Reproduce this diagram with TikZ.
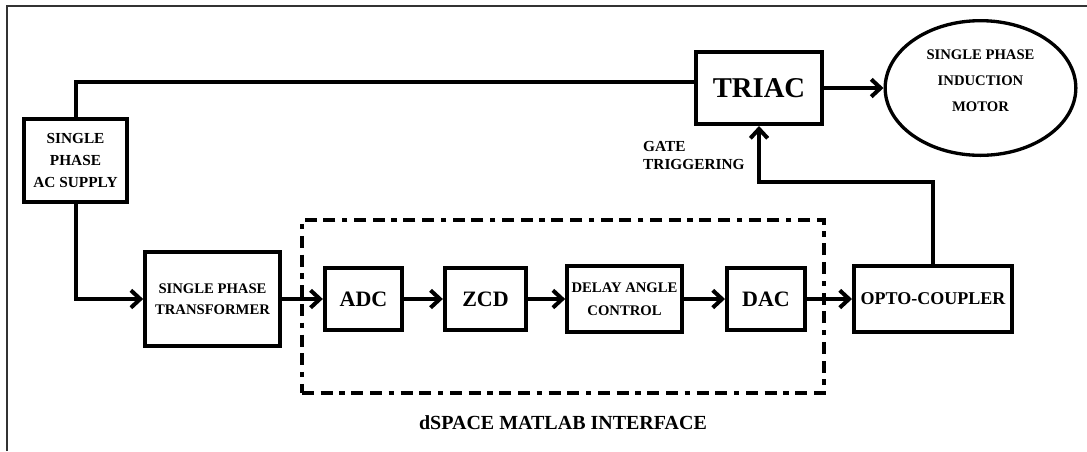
\documentclass[tikz,border=0pt]{standalone}
\usepackage{fontspec}
\setmainfont{Liberation Serif}
\usepackage{tikz}
\usetikzlibrary{positioning, shapes.geometric, arrows.meta}

\begin{document}
\begin{tikzpicture}[x=0.75pt, y=-0.75pt]

\tikzset{
  block/.style={
    draw=black,
    line width=3pt,
    rectangle,
    align=center,
    inner sep=0pt
  },
  dashbox/.style={
    draw=black,
    line width=3pt,
    dash pattern=on 9pt off 5pt on 9pt off 5pt on 4pt off 5pt,
    inner sep=0pt
  },
  wire/.style={line width=3pt},
  flow/.style={
    line width=3pt,
    -{Straight Barb[length=7pt, width=13pt]}
  }
}

\useasboundingbox (0,0) rectangle (1087,451);
\draw[line width=0.9pt, black!80] (7,451) -- (7,6) -- (1087,6);

\node[block, minimum width=77pt, minimum height=62pt,
  font=\bfseries\fontsize{11.5}{16.5}\selectfont]
  (supply) at (75.5,160.5) {SINGLE\\PHASE\\AC SUPPLY};

\node[block, minimum width=101pt, minimum height=71pt,
  font=\bfseries\fontsize{11}{15.75}\selectfont]
  (trans) at (212.5,299) {SINGLE PHASE\\TRANSFORMER};

\node[dashbox, minimum width=391.5pt, minimum height=130pt] (dspace) at (563,306.5) {};

\node[block, minimum width=58pt, minimum height=47pt,
  font=\bfseries\fontsize{16.5}{18}\selectfont]
  (adc) at (363.5,299) {ADC};
\node[block, minimum width=61pt, minimum height=47pt,
  font=\bfseries\fontsize{16.5}{18}\selectfont]
  (zcd) at (485.5,299) {ZCD};
\node[block, minimum width=86pt, minimum height=49.5pt,
  font=\bfseries\fontsize{11}{17}\selectfont]
  (delay) at (624.5,299) {DELAY ANGLE\\CONTROL};
\node[block, minimum width=58.5pt, minimum height=47pt,
  font=\bfseries\fontsize{16.5}{18}\selectfont]
  (dac) at (766,299) {DAC};
\node[block, minimum width=118.5pt, minimum height=49.5pt,
  font=\bfseries\fontsize{13.5}{16}\selectfont]
  (opto) at (933,299) {OPTO-COUPLER};

\node[block, minimum width=94.5pt, minimum height=54pt,
  font=\bfseries\fontsize{21.5}{24}\selectfont]
  (triac) at (759,88) {TRIAC};
\node[ellipse, draw=black, line width=2.5pt, minimum width=143pt, minimum height=101pt,
  inner sep=0pt, align=center, text depth=10.5pt, font=\bfseries\fontsize{11}{19.5}\selectfont]
  (motor) at (980.5,88) {SINGLE PHASE\\INDUCTION\\MOTOR};

\node[below=12pt of dspace, font=\bfseries\fontsize{15}{18}\selectfont] (dlabel) {dSPACE MATLAB INTERFACE};
\node[anchor=north west, align=left, font=\bfseries\fontsize{11.5}{13.5}\selectfont]
  (gate) at (638.5,137) {GATE\\TRIGGERING};

\coordinate (gatebend) at (0,182);

\draw[wire] (supply.north) |- ([yshift=4.5pt]triac.west);
\draw[flow] (supply.south) |- (trans.west);
\draw[flow] (trans.east) -- (adc.west);
\draw[flow] (adc.east) -- (zcd.west);
\draw[flow] (zcd.east) -- (delay.west);
\draw[flow] (delay.east) -- (dac.west);
\draw[flow] (dac.east) -- (opto.west);
\draw[flow] (triac.east) -- (motor.west);
\draw[flow] (opto.north) |- (gatebend -| triac.south) -- (triac.south);

\end{tikzpicture}
\end{document}
